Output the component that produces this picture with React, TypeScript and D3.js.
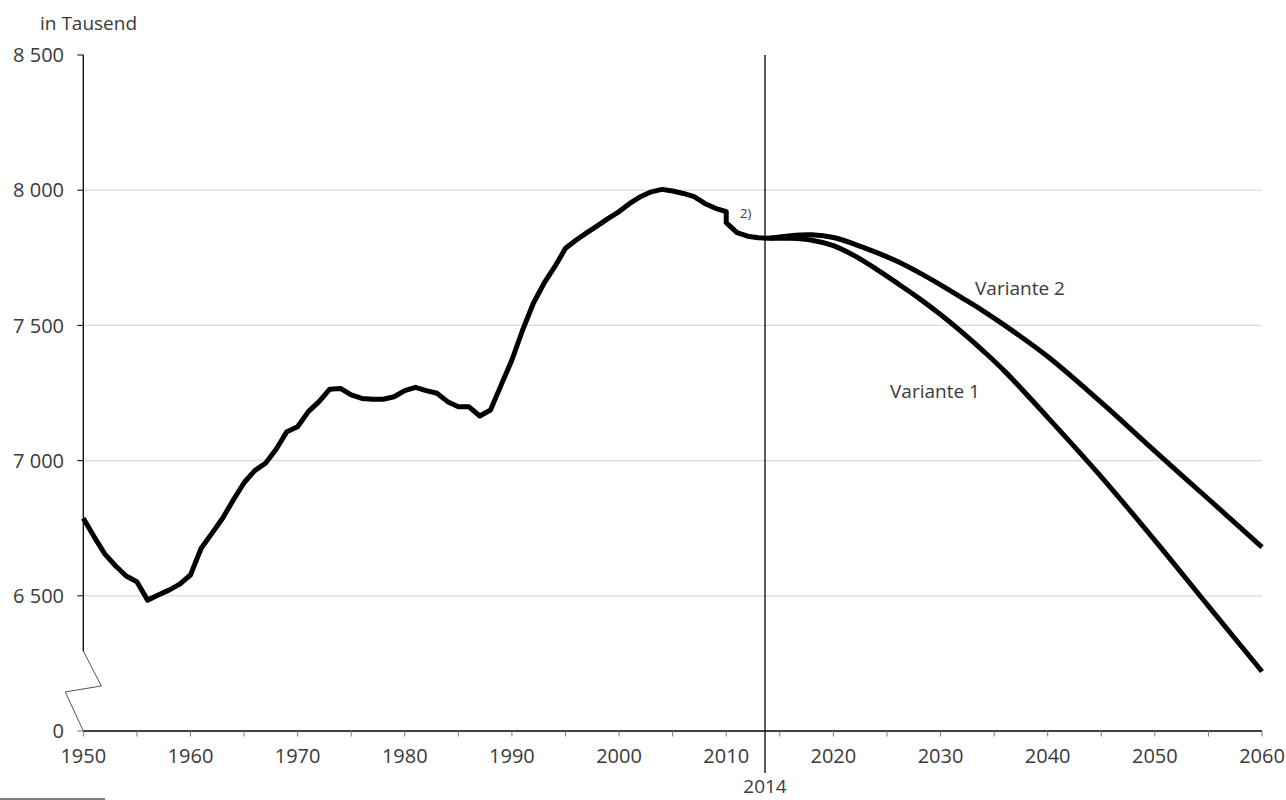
import React from "react";
import * as d3 from "d3";

// Historical population (thousand), 1950–2014; 2010 appears twice (old / census-corrected basis)
const histYears = [
  1950, 1951, 1952, 1953, 1954, 1955, 1956, 1957, 1958, 1959,
  1960, 1961, 1962, 1963, 1964, 1965, 1966, 1967, 1968, 1969,
  1970, 1971, 1972, 1973, 1974, 1975, 1976, 1977, 1978, 1979,
  1980, 1981, 1982, 1983, 1984, 1985, 1986, 1987, 1988, 1989,
  1990, 1991, 1992, 1993, 1994, 1995, 1996, 1997, 1998, 1999,
  2000, 2001, 2002, 2003, 2004, 2005, 2006, 2007, 2008, 2009,
  2010, 2010, 2011, 2012, 2013, 2014,
];
const histValues = [
  6787, 6719, 6655, 6611, 6573, 6552, 6484, 6503, 6521, 6543,
  6577, 6676, 6731, 6787, 6854, 6918, 6963, 6990, 7042, 7107,
  7125, 7181, 7218, 7264, 7267, 7243, 7230, 7227, 7227, 7236,
  7259, 7271, 7259, 7249, 7218, 7199, 7199, 7165, 7187, 7280,
  7372, 7483, 7582, 7656, 7717, 7785, 7816, 7843, 7869, 7896,
  7921, 7951, 7976, 7994, 8003, 7997, 7988, 7976, 7951, 7933,
  7921, 7880, 7843, 7830, 7824, 7822,
];

// Projections
const v1Years = [2014, 2016, 2018, 2020, 2022, 2024, 2026, 2028, 2030, 2032, 2034, 2036, 2040, 2045, 2050, 2055, 2060];
const v1Values = [7822, 7822, 7815, 7795, 7757, 7708, 7655, 7600, 7540, 7475, 7405, 7330, 7160, 6940, 6705, 6462, 6220];
const v2Years = [2014, 2016, 2018, 2020, 2022, 2024, 2026, 2028, 2030, 2032, 2034, 2036, 2040, 2045, 2050, 2055, 2060];
const v2Values = [7822, 7832, 7835, 7825, 7800, 7770, 7736, 7695, 7650, 7602, 7553, 7500, 7385, 7215, 7035, 6858, 6680];

const yTickValues = [6000, 6500, 7000, 7500, 8000, 8500];
const yTickLabels = ["0", "6 500", "7 000", "7 500", "8 000", "8 500"];
const xLabelYears = [1950, 1960, 1970, 1980, 1990, 2000, 2010, 2020, 2030, 2040, 2050, 2060];
const xTickYears = d3.range(1950, 2061, 5);
const markerYear = 2013.62; // position of the 2014 separator line in the reference
const markerLabel = "2014";

const FONT = "'Open Sans', 'DejaVu Sans', sans-serif";
const TEXT = "#3a3a3a";

export default function App() {
  const x = d3.scaleLinear().domain([1950, 2060]).range([83.3, 1262]);
  const y = d3.scaleLinear().domain([6000, 8500]).range([731, 55]);
  const axisX = x(1950);
  const breakTop = y(6296);

  const line = d3
    .line<[number, number]>()
    .x((d) => x(d[0]))
    .y((d) => y(d[1]));
  const smooth = d3
    .line<[number, number]>()
    .x((d) => x(d[0]))
    .y((d) => y(d[1]))
    .curve(d3.curveCatmullRom.alpha(0.5));

  const hist = histYears.map((yr, i) => [yr, histValues[i]] as [number, number]);
  const v1 = v1Years.map((yr, i) => [yr, v1Values[i]] as [number, number]);
  const v2 = v2Years.map((yr, i) => [yr, v2Values[i]] as [number, number]);

  const mx = x(markerYear);

  return (
    <svg
      width={1286}
      height={800}
      style={{ position: "absolute", left: 0, top: 0, background: "#fff" }}
      fontFamily={FONT}
    >
      {/* gridlines */}
      {yTickValues.slice(1, 5).map((v) => (
        <line key={"g" + v} x1={axisX} x2={x(2060)} y1={y(v)} y2={y(v)} stroke="#d9d9d9" strokeWidth={1.3} />
      ))}

      {/* y axis with break */}
      <line x1={axisX} x2={axisX} y1={y(8500)} y2={breakTop} stroke="#000" strokeWidth={1.3} />
      <polyline
        points={`${axisX},${breakTop} ${axisX + 18},${breakTop + 35} ${axisX - 18},${breakTop + 41} ${axisX},${y(6000)}`}
        fill="none"
        stroke="#555"
        strokeWidth={1}
      />
      {yTickValues.map((v, i) => (
        <g key={"yt" + v}>
          <line x1={axisX - 6} x2={axisX} y1={y(v)} y2={y(v)} stroke={i === 0 ? "#777" : "#000"} strokeWidth={1} />
          <text x={64} y={y(v) + 7.2} textAnchor="end" fontSize={20} fill={TEXT}>
            {yTickLabels[i]}
          </text>
        </g>
      ))}
      <text x={40} y={30} fontSize={19} fill={TEXT}>
        in Tausend
      </text>

      {/* x axis */}
      <line x1={axisX} x2={x(2060)} y1={y(6000)} y2={y(6000)} stroke="#000" strokeWidth={1.5} />
      {xTickYears.map((yr) => (
        <line key={"xt" + yr} x1={x(yr)} x2={x(yr)} y1={y(6000)} y2={y(6000) + 5.5} stroke="#777" strokeWidth={1} />
      ))}
      {xLabelYears.map((yr) => (
        <text key={"xl" + yr} x={x(yr)} y={763} textAnchor="middle" fontSize={20} fill={TEXT}>
          {yr}
        </text>
      ))}

      {/* 2014 separator */}
      <line x1={mx} x2={mx} y1={y(8500)} y2={773} stroke="#000" strokeWidth={1.3} />
      <text x={mx} y={793} textAnchor="middle" fontSize={19} fill={TEXT}>
        {markerLabel}
      </text>

      {/* data lines */}
      <path d={smooth(v1) || ""} fill="none" stroke="#000" strokeWidth={5} strokeLinejoin="round" />
      <path d={smooth(v2) || ""} fill="none" stroke="#000" strokeWidth={5} strokeLinejoin="round" />
      <path d={line(hist) || ""} fill="none" stroke="#000" strokeWidth={5} strokeLinejoin="round" />

      {/* annotations */}
      <text x={740} y={218} fontSize={13} fill={TEXT}>
        2)
      </text>
      <text x={975} y={295} fontSize={19} fill={TEXT}>
        Variante 2
      </text>
      <text x={890} y={398} fontSize={19} fill={TEXT}>
        Variante 1
      </text>

      {/* footnote separator */}
      <line x1={0} x2={105} y1={799} y2={799} stroke="#000" strokeWidth={1} />
    </svg>
  );
}
